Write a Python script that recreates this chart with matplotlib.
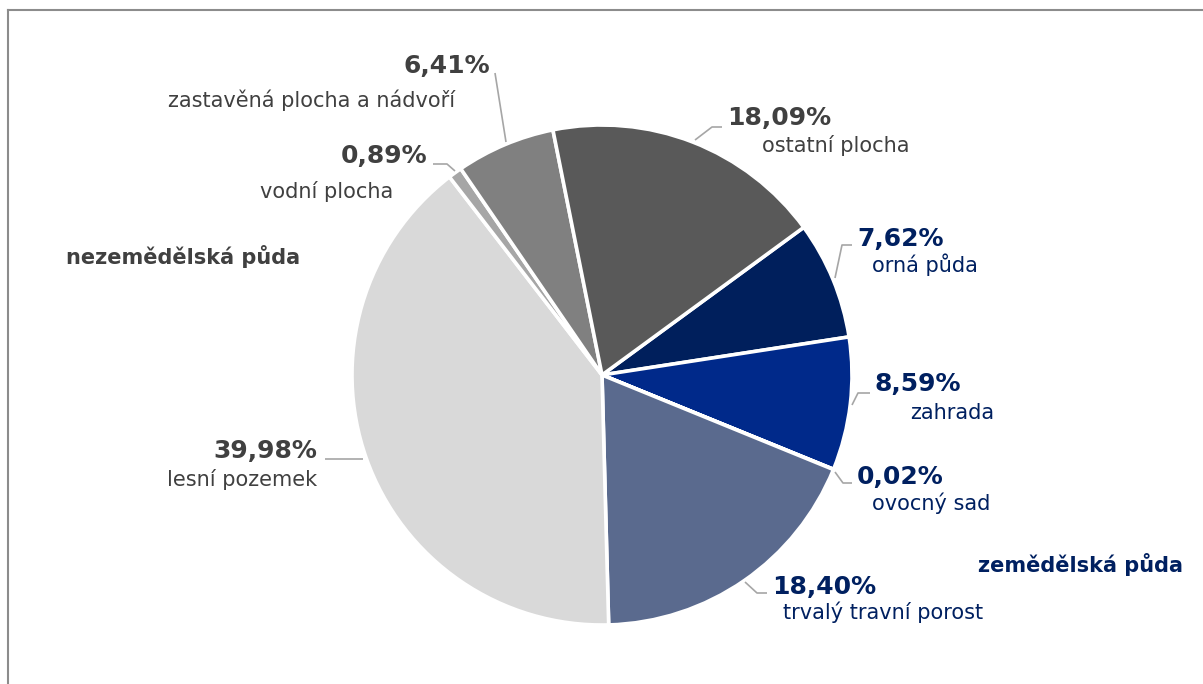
import matplotlib.pyplot as plt
from matplotlib.lines import Line2D

# data (clockwise from "orná půda")
kategorie = ["orná půda", "zahrada", "ovocný sad", "trvalý travní porost",
             "lesní pozemek", "vodní plocha", "zastavěná plocha a nádvoří",
             "ostatní plocha"]
podil = [7.62, 8.59, 0.02, 18.40, 39.98, 0.89, 6.41, 18.09]
barvy = ["#001f5c", "#00298a", "#8497b0", "#5a6a8e",
         "#d9d9d9", "#a6a6a6", "#808080", "#595959"]
zemedelska = [True, True, True, True, False, False, False, False]

W, H = 1203, 684
fig = plt.figure(figsize=(W / 100, H / 100), dpi=100)
ax = fig.add_axes([0, 0, 1, 1])
ax.set_xlim(0, W)
ax.set_ylim(0, H)
ax.set_aspect("equal")
ax.axis("off")

cx, cy, r = 602, H - 375, 250
ax.pie(podil, colors=barvy, startangle=36.2, counterclock=False,
       center=(cx, cy), radius=r, frame=False,
       wedgeprops=dict(edgecolor="white", linewidth=2.6))
ax.set_xlim(0, W)
ax.set_ylim(0, H)

GRAY_T = "#404040"
BLUE_T = "#002060"
LINE = "#a6a6a6"

# label layout in pixel coords: (pct x, pct y, ha, name x, name y, ha)
pos = {
    "orná půda": (857, 239, "left", 872, 265, "left"),
    "zahrada": (875, 384, "left", 910, 413, "left"),
    "ovocný sad": (857, 477, "left", 872, 503, "left"),
    "trvalý travní porost": (772, 587, "left", 783, 612, "left"),
    "lesní pozemek": (317, 451, "right", 317, 479, "right"),
    "vodní plocha": (427, 156, "right", 393, 191, "right"),
    "zastavěná plocha a nádvoří": (490, 66, "right", 455, 100, "right"),
    "ostatní plocha": (727, 118, "left", 762, 145, "left"),
}
leaders = {
    "orná půda": [(852, 245), (842, 245), (835, 278)],
    "zahrada": [(870, 393), (858, 393), (852, 405)],
    "ovocný sad": [(852, 483), (843, 483), (835, 472)],
    "trvalý travní porost": [(767, 593), (757, 593), (745, 582)],
    "lesní pozemek": [(325, 459), (363, 459)],
    "vodní plocha": [(433, 164), (447, 164), (455, 171)],
    "zastavěná plocha a nádvoří": [(495, 73), (506, 142)],
    "ostatní plocha": [(722, 127), (712, 127), (695, 140)],
}

for kat, p, z in zip(kategorie, podil, zemedelska):
    c = BLUE_T if z else GRAY_T
    px, py, pha, nx, ny, nha = pos[kat]
    ax.text(px, H - py, f"{p:.2f}%".replace(".", ","), ha=pha, va="center",
            fontsize=18, fontweight="bold", color=c)
    ax.text(nx, H - ny, kat, ha=nha, va="center", fontsize=15, color=c)
    xs = [q[0] for q in leaders[kat]]
    ys = [H - q[1] for q in leaders[kat]]
    ax.plot(xs, ys, color=LINE, lw=1.2, solid_capstyle="butt")

ax.text(66, H - 257, "nezemědělská půda", ha="left", va="center",
        fontsize=15, fontweight="bold", color=GRAY_T)
ax.text(1183, H - 565, "zemědělská půda", ha="right", va="center",
        fontsize=15, fontweight="bold", color=BLUE_T)

# chart frame (only left and top edges visible)
fig.add_artist(Line2D([7.5 / W, 7.5 / W], [0, 1 - 10 / H], color="#8c8c8c",
                      lw=1.5, transform=fig.transFigure))
fig.add_artist(Line2D([7.5 / W, 1], [1 - 10 / H, 1 - 10 / H], color="#8c8c8c",
                      lw=1.5, transform=fig.transFigure))

fig.savefig("out.png", dpi=100)
